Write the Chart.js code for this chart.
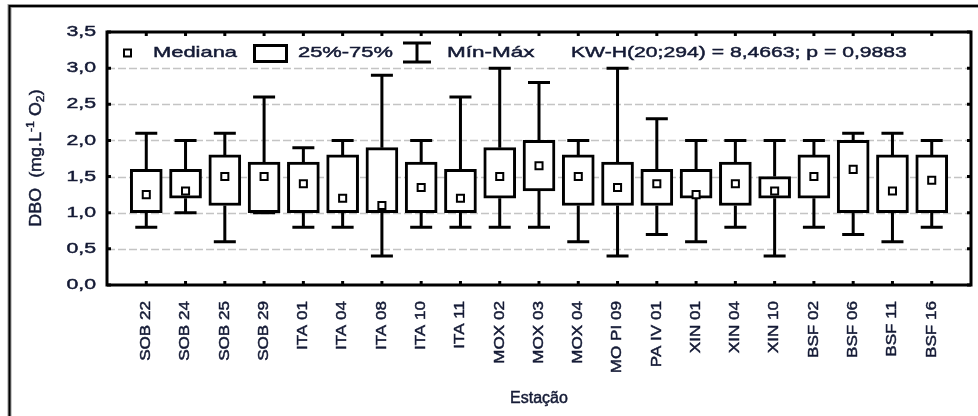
<!DOCTYPE html>
<html lang="pt">
<head>
<meta charset="utf-8">
<title>DBO por estação</title>
<script src="https://cdn.jsdelivr.net/npm/chart.js@4.4.1/dist/chart.umd.min.js"></script>
<style>
  html, body { margin: 0; padding: 0; background: #ffffff; }
  #grafico { display: block; }
</style>
</head>
<body>
<canvas id="grafico" width="978" height="416"></canvas>
<script>
// Dados (DBO, mg.L-1 O2)
const estacoes = ['SOB 22', 'SOB 24', 'SOB 25', 'SOB 29', 'ITA 01', 'ITA 04', 'ITA 08', 'ITA 10', 'ITA 11',
    'MOX 02', 'MOX 03', 'MOX 04', 'MO PI 09', 'PA IV 01', 'XIN 01', 'XIN 04', 'XIN 10',
    'BSF 02', 'BSF 06', 'BSF 11', 'BSF 16'];
const minimos  = [0.8, 1.0, 0.6, 1.0, 0.8, 0.8, 0.4, 0.8, 0.8, 0.8, 0.8, 0.6, 0.4, 0.7, 0.6, 0.8, 0.4, 0.8, 0.7, 0.6, 0.8];
const quartil1 = [1.0, 1.2, 1.1, 1.0, 1.0, 1.0, 1.0, 1.0, 1.0, 1.2, 1.3, 1.1, 1.1, 1.1, 1.2, 1.1, 1.2, 1.2, 1.0, 1.0, 1.0];
const medianas = [1.25, 1.3, 1.5, 1.5, 1.4, 1.2, 1.1, 1.35, 1.2, 1.5, 1.65, 1.5, 1.35, 1.4, 1.25, 1.4, 1.3, 1.5, 1.6, 1.3, 1.45];
const quartil3 = [1.6, 1.6, 1.8, 1.7, 1.7, 1.8, 1.9, 1.7, 1.6, 1.9, 2.0, 1.8, 1.7, 1.6, 1.6, 1.7, 1.5, 1.8, 2.0, 1.8, 1.8];
const maximos  = [2.1, 2.0, 2.1, 2.6, 1.9, 2.0, 2.9, 2.0, 2.6, 3.0, 2.8, 2.0, 3.0, 2.3, 2.0, 2.0, 2.0, 2.0, 2.1, 2.1, 2.0];
const yTicks = [0, 0.5, 1.0, 1.5, 2.0, 2.5, 3.0, 3.5];
const legendaTextos = ['Mediana', '25%-75%', 'Mín-Máx', 'KW-H(20;294) = 8,4663; p = 0,9883'];
const tituloX = 'Estação';

const corTexto = '#141a35';
const fonte = '"Liberation Sans", Arial, sans-serif';

// Escreve texto esticado na direção da escrita (o original parece ampliado na horizontal).
function textoEsticado(ctx, txt, x, y, sx, align, rot) {
    ctx.save();
    ctx.translate(x, y);
    if (rot) ctx.rotate(rot);
    ctx.scale(sx, 1);
    ctx.textAlign = align;
    ctx.fillText(txt, 0, 0);
    // traço fino para imitar o texto mais "pesado" do original
    ctx.strokeStyle = corTexto;
    ctx.lineWidth = 0.45;
    ctx.strokeText(txt, 0, 0);
    ctx.restore();
}

const boxplotPlugin = {
    id: 'boxplotPlugin',
    // Linhas de grade tracejadas antes das caixas
    beforeDatasetsDraw(chart) {
        const { ctx, chartArea: a, scales: { y } } = chart;
        ctx.save();
        ctx.strokeStyle = '#c4c4c4';
        ctx.lineWidth = 1.5;
        ctx.setLineDash([8, 3]);
        yTicks.forEach(v => {
            if (v <= 0 || v >= 3.5) return;
            const py = Math.round(y.getPixelForValue(v)) + 0.5;
            ctx.beginPath();
            ctx.moveTo(a.left, py);
            ctx.lineTo(a.right, py);
            ctx.stroke();
        });
        ctx.restore();
    },
    // Bigodes (mín-máx) com traços nas pontas
    afterDatasetsDraw(chart) {
        const { ctx, scales: { x, y } } = chart;
        ctx.save();
        ctx.strokeStyle = '#000';
        estacoes.forEach((_, i) => {
            const px = x.getPixelForValue(i);
            const yMin = y.getPixelForValue(minimos[i]);
            const yMax = y.getPixelForValue(maximos[i]);
            const yQ1 = y.getPixelForValue(quartil1[i]);
            const yQ3 = y.getPixelForValue(quartil3[i]);
            ctx.lineWidth = 3;
            ctx.beginPath();
            ctx.moveTo(px, yQ3); ctx.lineTo(px, yMax);
            ctx.moveTo(px, yQ1); ctx.lineTo(px, yMin);
            ctx.stroke();
            ctx.beginPath();
            ctx.moveTo(px - 11, yMax); ctx.lineTo(px + 11, yMax);
            ctx.moveTo(px - 11, yMin); ctx.lineTo(px + 11, yMin);
            ctx.stroke();
        });
        ctx.restore();
    },
    // Moldura, marcas, rótulos e legenda
    afterDraw(chart) {
        const { ctx, chartArea: a, scales: { x, y } } = chart;
        ctx.save();

        // moldura externa (cortada à direita e embaixo)
        ctx.strokeStyle = '#9a9a9a';
        ctx.lineWidth = 4;
        ctx.beginPath();
        ctx.moveTo(9.5, 420); ctx.lineTo(9.5, 6); ctx.lineTo(982, 6);
        ctx.stroke();
        ctx.strokeStyle = '#000';
        ctx.lineWidth = 2;
        ctx.stroke();

        // moldura da área do gráfico
        ctx.lineWidth = 3;
        ctx.strokeRect(a.left, a.top, a.right - a.left, a.bottom - a.top);

        // marcas internas
        ctx.lineWidth = 3;
        ctx.beginPath();
        estacoes.forEach((_, i) => {
            const px = x.getPixelForValue(i);
            ctx.moveTo(px, a.top); ctx.lineTo(px, a.top + 4);
            ctx.moveTo(px, a.bottom); ctx.lineTo(px, a.bottom - 4);
        });
        yTicks.forEach(v => {
            const py = y.getPixelForValue(v);
            ctx.moveTo(a.left, py); ctx.lineTo(a.left + 4, py);
            ctx.moveTo(a.right, py); ctx.lineTo(a.right - 4, py);
        });
        ctx.stroke();

        ctx.fillStyle = corTexto;

        // rótulos do eixo Y
        ctx.font = '15px ' + fonte;
        ctx.textBaseline = 'middle';
        yTicks.forEach(v => {
            textoEsticado(ctx, v.toFixed(1).replace('.', ','), 96, y.getPixelForValue(v), 1.42, 'right');
        });

        // rótulos do eixo X (verticais)
        ctx.font = '14px ' + fonte;
        estacoes.forEach((nome, i) => {
            textoEsticado(ctx, nome, x.getPixelForValue(i), a.bottom + 16, 1.22, 'right', -Math.PI / 2);
        });

        // título do eixo X
        ctx.font = '16px ' + fonte;
        textoEsticado(ctx, tituloX, (a.left + a.right) / 2, 399, 1.0, 'center');

        // título do eixo Y: DBO (mg.L-1 O2)
        ctx.save();
        ctx.translate(37, 158);
        ctx.rotate(-Math.PI / 2);
        ctx.scale(1.12, 1);
        ctx.textAlign = 'left';
        ctx.textBaseline = 'middle';
        const partes = [
            { t: 'DBO  (mg.L', f: 16, dy: 0 },
            { t: '-1', f: 11, dy: -6 },
            { t: ' O', f: 16, dy: 0 },
            { t: '2', f: 11, dy: 4 },
            { t: ')', f: 16, dy: 0 }
        ];
        let larg = 0;
        partes.forEach(p => { ctx.font = p.f + 'px ' + fonte; larg += ctx.measureText(p.t).width; });
        let cx = -larg / 2;
        ctx.strokeStyle = corTexto;
        ctx.lineWidth = 0.45;
        partes.forEach(p => {
            ctx.font = p.f + 'px ' + fonte;
            ctx.fillText(p.t, cx, p.dy);
            ctx.strokeText(p.t, cx, p.dy);
            cx += ctx.measureText(p.t).width;
        });
        ctx.restore();

        // legenda
        const ly = 53;
        ctx.strokeStyle = '#000';
        ctx.fillStyle = '#fff';
        ctx.lineWidth = 2;
        ctx.fillRect(124, ly - 3.5, 7, 7);
        ctx.strokeRect(124, ly - 3.5, 7, 7);
        ctx.lineWidth = 3;
        ctx.strokeRect(254.5, 45.5, 32, 16);
        ctx.beginPath();
        ctx.moveTo(417, 43); ctx.lineTo(417, 62);
        ctx.moveTo(403, 43); ctx.lineTo(431, 43);
        ctx.moveTo(403, 62); ctx.lineTo(431, 62);
        ctx.stroke();

        ctx.fillStyle = corTexto;
        ctx.font = '15px ' + fonte;
        ctx.textBaseline = 'middle';
        textoEsticado(ctx, legendaTextos[0], 153, ly, 1.46, 'left');
        textoEsticado(ctx, legendaTextos[1], 298, ly, 1.46, 'left');
        textoEsticado(ctx, legendaTextos[2], 447, ly, 1.5, 'left');
        textoEsticado(ctx, legendaTextos[3], 571, ly, 1.41, 'left');

        ctx.restore();
    }
};

document.addEventListener('DOMContentLoaded', function () {
    const canvas = document.getElementById('grafico');
    if (!canvas || typeof Chart === 'undefined') return;

    const caixas = estacoes.map((_, i) => ({ x: i, y: [quartil1[i], quartil3[i]] }));
    const pontosMediana = estacoes.map((_, i) => ({ x: i, y: medianas[i] }));

    new Chart(canvas.getContext('2d'), {
        data: {
            datasets: [{
                type: 'bar',
                label: '25%-75%',
                data: caixas,
                backgroundColor: '#ffffff',
                borderColor: '#000000',
                borderWidth: 3,
                borderSkipped: false,
                barThickness: 32,
                order: 2
            }, {
                type: 'scatter',
                label: 'Mediana',
                data: pontosMediana,
                pointStyle: 'rect',
                pointRadius: 5,
                pointBackgroundColor: '#ffffff',
                pointBorderColor: '#000000',
                pointBorderWidth: 2,
                order: 1
            }]
        },
        options: {
            responsive: false,
            animation: false,
            layout: { padding: { top: 32, right: 6, left: 0, bottom: 0 } },
            plugins: {
                legend: { display: false },
                tooltip: { enabled: false }
            },
            scales: {
                x: {
                    type: 'linear',
                    min: -1,
                    max: 21,
                    offset: false,
                    ticks: { display: false },
                    grid: { display: false, drawTicks: false },
                    border: { display: false },
                    afterFit: s => { s.height = 131; }
                },
                y: {
                    min: 0,
                    max: 3.5,
                    ticks: { display: false, stepSize: 0.5 },
                    grid: { display: false, drawTicks: false },
                    border: { display: false },
                    afterFit: s => { s.width = 107; }
                }
            }
        },
        plugins: [boxplotPlugin]
    });
});
</script>
</body>
</html>
